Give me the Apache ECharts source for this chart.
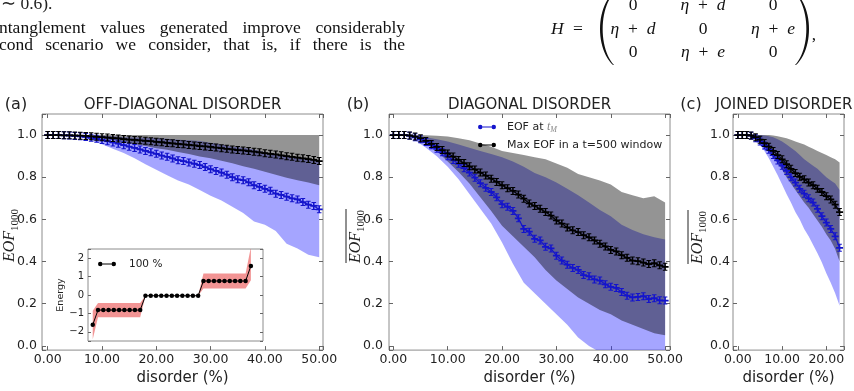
<!DOCTYPE html>
<html>
<head>
<meta charset="utf-8">
<script src="https://cdn.jsdelivr.net/npm/echarts@6/dist/echarts.min.js"></script>
<style>
html,body{margin:0;padding:0;background:#fff;}
#chart{width:854px;height:391px;}
</style>
</head>
<body>
<div id="chart"></div>
<script>
// ---- data: panels (a) and (b), disorder in %
var disorderAB = [0,1,2,3,4,5,6,7,8,9,10,11,12,13,14,15,16,17,18,19,20,21,22,23,24,25,26,27,28,29,30,31,32,33,34,35,36,37,38,39,40,41,42,43,44,45,46,47,48,49,50];
var bandXAB = [0,2,4,6,8,10,12,14,16,18,20,22,24,26,28,30,32,34,36,38,40,42,44,46,48,50];

// (a) off-diagonal disorder
var maxEofA = [1.000,1.000,1.000,0.999,0.999,0.998,0.997,0.996,0.994,0.992,0.990,0.988,0.986,0.984,0.981,0.979,0.977,0.975,0.973,0.971,0.968,0.966,0.963,0.961,0.958,0.956,0.953,0.951,0.948,0.946,0.944,0.941,0.938,0.935,0.932,0.929,0.927,0.924,0.921,0.918,0.914,0.911,0.908,0.904,0.900,0.897,0.893,0.890,0.886,0.882,0.877];
var eofTmA = [1.000,1.000,1.000,0.999,0.998,0.996,0.994,0.991,0.987,0.982,0.977,0.971,0.965,0.959,0.952,0.945,0.939,0.932,0.925,0.918,0.911,0.903,0.897,0.889,0.881,0.877,0.870,0.864,0.858,0.848,0.838,0.830,0.822,0.812,0.800,0.790,0.786,0.776,0.762,0.754,0.745,0.736,0.722,0.716,0.708,0.700,0.695,0.682,0.670,0.664,0.648];
var maxEofHighA = [1,1,1,1,1,1,1,1,1,1,1,1,1,1,1,1,1,1,1,1,1,1,1,1,1,1];
var maxEofLowA = [1.000,1.000,0.999,0.996,0.990,0.982,0.975,0.966,0.958,0.948,0.938,0.930,0.920,0.910,0.898,0.890,0.878,0.866,0.852,0.840,0.826,0.812,0.798,0.786,0.775,0.762];
var eofTmHighA = [1.000,1.000,0.999,0.998,0.998,0.997,0.995,0.990,0.988,0.987,0.986,0.983,0.978,0.975,0.972,0.964,0.955,0.945,0.940,0.932,0.918,0.905,0.900,0.893,0.885,0.876];
var eofTmLowA = [1.000,1.000,0.998,0.990,0.975,0.957,0.935,0.915,0.890,0.862,0.835,0.810,0.785,0.765,0.740,0.712,0.690,0.660,0.630,0.590,0.575,0.545,0.485,0.462,0.432,0.420];

// (b) diagonal disorder
var maxEofB = [1.000,1.000,1.000,0.998,0.993,0.985,0.972,0.958,0.944,0.929,0.913,0.898,0.882,0.867,0.852,0.837,0.822,0.808,0.793,0.778,0.762,0.748,0.735,0.718,0.698,0.676,0.664,0.650,0.635,0.618,0.595,0.580,0.562,0.548,0.540,0.525,0.515,0.500,0.485,0.472,0.455,0.448,0.430,0.418,0.405,0.402,0.395,0.388,0.392,0.382,0.375];
var eofTmB = [1.000,1.000,1.000,0.997,0.990,0.980,0.967,0.952,0.935,0.918,0.900,0.882,0.864,0.843,0.822,0.798,0.772,0.750,0.730,0.705,0.672,0.660,0.640,0.605,0.555,0.542,0.508,0.500,0.470,0.462,0.428,0.405,0.385,0.370,0.360,0.336,0.330,0.315,0.310,0.292,0.280,0.275,0.256,0.238,0.230,0.232,0.236,0.222,0.226,0.216,0.215];
var maxEofHighB = [1,1,1,0.999,0.997,0.993,0.985,0.975,0.96,0.945,0.925,0.915,0.905,0.895,0.885,0.865,0.845,0.815,0.8,0.785,0.765,0.73,0.715,0.7,0.71,0.68];
var maxEofLowB = [1,1,0.99,0.965,0.925,0.875,0.825,0.77,0.705,0.64,0.57,0.52,0.47,0.42,0.36,0.31,0.27,0.23,0.2,0.17,0.15,0.12,0.1,0.08,0.06,0.05];
var eofTmHighB = [1,1,0.998,0.99,0.98,0.97,0.955,0.94,0.925,0.91,0.895,0.875,0.85,0.82,0.8,0.775,0.745,0.715,0.68,0.645,0.615,0.575,0.55,0.53,0.515,0.505];
var eofTmLowB = [1,0.998,0.975,0.94,0.9,0.85,0.79,0.72,0.65,0.58,0.49,0.39,0.3,0.25,0.2,0.15,0.1,0.04,0.0,-0.03,-0.05,-0.07,-0.08,-0.07,-0.08,-0.08];

// (c) joined disorder
var disorderC = [0,1,2,3,4,5,6,7,8,9,10,11,12,13,14,15,16,17,18,19,20,21,22,23];
var maxEofC = [1.000,1.000,1.000,0.998,0.990,0.978,0.962,0.945,0.925,0.905,0.885,0.862,0.840,0.820,0.802,0.790,0.775,0.762,0.745,0.730,0.710,0.695,0.670,0.635];
var eofTmC = [1.000,1.000,1.000,0.997,0.985,0.970,0.950,0.930,0.905,0.880,0.855,0.830,0.800,0.775,0.745,0.722,0.700,0.680,0.650,0.615,0.585,0.555,0.520,0.465];
var maxEofHighC = [1,1,1,1,1,1,1,1,0.998,0.995,0.99,0.985,0.978,0.97,0.962,0.955,0.945,0.935,0.925,0.915,0.905,0.895,0.885,0.87];
var maxEofLowC = [1,1,1,0.997,0.985,0.968,0.945,0.92,0.895,0.865,0.835,0.8,0.77,0.74,0.71,0.68,0.655,0.625,0.595,0.565,0.53,0.5,0.46,0.4];
var eofTmHighC = [1,1,1,1,1,1,0.998,0.995,0.99,0.98,0.97,0.955,0.94,0.925,0.905,0.885,0.87,0.855,0.84,0.82,0.8,0.785,0.77,0.74];
var eofTmLowC = [1,1,1,0.993,0.978,0.955,0.925,0.89,0.85,0.81,0.765,0.72,0.68,0.635,0.6,0.555,0.52,0.48,0.44,0.395,0.345,0.3,0.25,0.19];

// inset: energy levels (100 %)
var levelIdx = [0,1,2,3,4,5,6,7,8,9,10,11,12,13,14,15,16,17,18,19,20,21,22,23,24,25,26,27,28,29,30];
var energy = [-1.62,-0.82,-0.82,-0.82,-0.82,-0.82,-0.82,-0.82,-0.82,-0.82,-0.04,-0.04,-0.04,-0.04,-0.04,-0.04,-0.04,-0.04,-0.04,-0.04,-0.04,0.76,0.76,0.76,0.76,0.76,0.76,0.76,0.76,0.76,1.58];
var energyHigh = [-0.85,-0.43,-0.43,-0.43,-0.43,-0.43,-0.43,-0.43,-0.43,-0.43,-0.04,-0.04,-0.04,-0.04,-0.04,-0.04,-0.04,-0.04,-0.04,-0.04,-0.04,1.17,1.17,1.17,1.17,1.17,1.17,1.17,1.17,1.17,2.6];
var energyLow = [-2.4,-1.21,-1.21,-1.21,-1.21,-1.21,-1.21,-1.21,-1.21,-1.21,-0.04,-0.04,-0.04,-0.04,-0.04,-0.04,-0.04,-0.04,-0.04,-0.04,-0.04,0.36,0.36,0.36,0.36,0.36,0.36,0.36,0.36,0.36,0.8];

var NAME_TM = 'EOF at tM';
var NAME_MAX = 'Max EOF in a t=500 window';
var NAME_LVL = '100 %';

var BLUE = '#1414cc';
var BLUE_BAND = 'rgba(40,40,255,0.42)';
var GRAY_BAND = 'rgba(0,0,0,0.42)';
var RED_BAND = 'rgba(232,60,60,0.55)';
var SANS = 'DejaVu Sans';
var SERIF = 'Liberation Serif';
var crossMark = 'path://M-0.22,-1 H0.22 V1 H-0.22 Z M-1,-0.22 H1 V0.22 H-1 Z M-0.65,-1 H0.65 V-0.75 H-0.65 Z M-0.65,0.75 H0.65 V1 H-0.65 Z';
var legendMark = 'path://M0,2.5 a2.5,2.5 0 1,0 5,0 a2.5,2.5 0 1,0 -5,0 Z M15,2.5 a2.5,2.5 0 1,0 5,0 a2.5,2.5 0 1,0 -5,0 Z M5,2 H15 V3 H5 Z';

function pairs(xs, ys){
	var out = [];
	for(var i = 0; i < xs.length; i++){
		out.push([xs[i], ys[i]]);
	}
	return out;
}

//band between lower and upper curve, drawn as one polygon on the axes
function bandSeries(xs, lo, hi, color, idx){
	return {
		type: 'custom',
		xAxisIndex: idx[0],
		yAxisIndex: idx[1],
		clip: true,
		silent: true,
		z: 1,
		data: [[xs[0], hi[0]]],
		renderItem: function(params, api){
			var pts = [];
			for(var i = 0; i < xs.length; i++) pts.push(api.coord([xs[i], hi[i]]));
			for(var j = xs.length - 1; j >= 0; j--) pts.push(api.coord([xs[j], lo[j]]));
			return {type: 'polygon', shape: {points: pts}, style: {fill: color}};
		}
	};
}

function lineSeries(name, xs, ys, color, idx){
	return {
		type: 'line',
		name: name,
		xAxisIndex: idx[0],
		yAxisIndex: idx[1],
		data: pairs(xs, ys),
		symbol: crossMark,
		symbolSize: [7, 8],
		lineStyle: {color: color, width: 1.2},
		itemStyle: {color: color},
		z: 3
	};
}

function xFmt(v){
	return Math.abs(v - Math.round(v / 10) * 10) < 1e-6 ? v.toFixed(2) : '';
}
function yFmt(v){
	var r = Math.round(v * 5) / 5;
	return (Math.abs(v - r) < 1e-6 && v > -1e-6 && v < 1.0001) ? v.toFixed(1) : '';
}
var tick = {inside: true, length: 4, lineStyle: {color: '#666'}};

function xAxisPair(grid, min, max){
	return [{
		type: 'value', gridIndex: grid, min: min, max: max, position: 'bottom',
		minInterval: 10, maxInterval: 10,
		axisLine: {show: false, onZero: false}, splitLine: {show: false}, axisTick: tick,
		axisLabel: {formatter: xFmt, margin: 3, fontFamily: SANS, fontSize: 12.5, color: '#222'},
		name: 'disorder (%)', nameLocation: 'middle', nameGap: 14,
		nameTextStyle: {fontFamily: SANS, fontSize: 15, color: '#222'}
	}, {
		type: 'value', gridIndex: grid, min: min, max: max, position: 'top',
		minInterval: 10, maxInterval: 10,
		axisLine: {show: false, onZero: false}, splitLine: {show: false}, axisTick: tick,
		axisLabel: {show: false}
	}];
}
function yAxisPair(grid, margin){
	return [{
		type: 'value', gridIndex: grid, min: -0.02, max: 1.1, position: 'left',
		minInterval: 0.2, maxInterval: 0.2,
		axisLine: {show: false, onZero: false}, splitLine: {show: false}, axisTick: tick,
		axisLabel: {formatter: yFmt, margin: margin, fontFamily: SANS, fontSize: 12.5, color: '#222'}
	}, {
		type: 'value', gridIndex: grid, min: -0.02, max: 1.1, position: 'right',
		minInterval: 0.2, maxInterval: 0.2,
		axisLine: {show: false, onZero: false}, splitLine: {show: false}, axisTick: tick,
		axisLabel: {show: false}
	}];
}

//rotated EOF_1000 axis title, optional bar over it
function eofLabel(baseX, cy, bar){
	var kids = [
		{type: 'text', x: -27, y: 3.5, style: {text: 'EOF', fontFamily: SERIF, fontStyle: 'italic', fontSize: 16, fill: '#222', verticalAlign: 'bottom', textVerticalAlign: 'bottom'}},
		{type: 'text', x: 4, y: 7, style: {text: '1000', fontFamily: SERIF, fontSize: 11, fill: '#222', verticalAlign: 'bottom', textVerticalAlign: 'bottom'}}
	];
	if(bar){
		kids.push({type: 'line', shape: {x1: -27, y1: -14, x2: 27, y2: -14}, style: {stroke: '#222', lineWidth: 1}});
	}
	return {type: 'group', x: baseX, y: cy, rotation: Math.PI / 2, children: kids};
}

function label(text, x, y, size, family, align){
	return {type: 'text', x: x, y: y, style: {text: text, fontFamily: family || SANS, fontSize: size, fill: '#222',
		align: align || 'center', textAlign: align || 'center', verticalAlign: 'middle', textVerticalAlign: 'middle'}};
}

//justified line of the paper text
var measureCtx = document.createElement('canvas').getContext('2d');
function justifyLine(words, x0, x1, y, size){
	measureCtx.font = size + 'px "' + SERIF + '"';
	var widths = words.map(function(w){ return measureCtx.measureText(w).width; });
	var total = widths.reduce(function(a, b){ return a + b; }, 0);
	var gap = (x1 - x0 - total) / (words.length - 1);
	var els = [], x = x0;
	for(var i = 0; i < words.length; i++){
		els.push({type: 'text', x: x, y: y, style: {text: words[i], fontFamily: SERIF, fontSize: size, fill: '#111',
			verticalAlign: 'middle', textVerticalAlign: 'middle'}});
		x += widths[i] + gap;
	}
	return els;
}

//tall bracket of the matrix as a thin crescent polygon
function paren(xEnd, xBulge, y0, y1, thick){
	var pts = [], n = 24, i, t, s;
	var dir = xBulge < xEnd ? 1 : -1;
	function bez(a, b, c, d, u){ var v = 1 - u; return v*v*v*a + 3*v*v*u*b + 3*v*u*u*c + u*u*u*d; }
	var ctrl = xEnd + (xBulge - xEnd) * 4 / 3;
	for(i = 0; i <= n; i++){
		t = i / n;
		pts.push([bez(xEnd, ctrl, ctrl, xEnd, t), bez(y0, y0 + (y1 - y0) * 0.22, y0 + (y1 - y0) * 0.78, y1, t)]);
	}
	for(i = n; i >= 0; i--){
		t = i / n;
		s = ctrl + dir * thick * 4 / 3;
		pts.push([bez(xEnd + dir * 1, s, s, xEnd + dir * 1, t), bez(y0, y0 + (y1 - y0) * 0.22, y0 + (y1 - y0) * 0.78, y1, t)]);
	}
	return {type: 'polygon', shape: {points: pts}, style: {fill: '#111'}};
}

var rich = {i: {fontFamily: SERIF, fontStyle: 'italic', fontSize: 17.5, color: '#111'}};
function mathCell(text, x, y){
	return {type: 'text', x: x, y: y, style: {text: text, rich: rich, fontFamily: SERIF, fontSize: 17.5, fill: '#111',
		align: 'center', textAlign: 'center', verticalAlign: 'middle', textVerticalAlign: 'middle'}};
}
var ETA_D = '{i|η}\u2002+\u2002{i|d}';
var ETA_E = '{i|η}\u2002+\u2002{i|e}';

var graphics = []
	.concat([label('\u223c 0.6).', 1, 4, 17.5, SERIF, 'left')])
	.concat(justifyLine(['ntanglement', 'values', 'generated', 'improve', 'considerably'], -1, 405, 28, 17.5))
	.concat(justifyLine(['cond', 'scenario', 'we', 'consider,', 'that', 'is,', 'if', 'there', 'is', 'the'], -1, 405, 45.5, 17.5))
	.concat([
		{type: 'text', x: 551, y: 29, style: {text: 'H', fontFamily: SERIF, fontStyle: 'italic', fontSize: 17.5, fill: '#111', verticalAlign: 'middle', textVerticalAlign: 'middle'}},
		mathCell('=', 578, 29),
		mathCell('0', 633, 5), mathCell(ETA_D, 703, 5), mathCell('0', 773, 5),
		mathCell(ETA_D, 633, 29), mathCell('0', 703, 29), mathCell(ETA_E, 773, 29),
		mathCell('0', 633, 52), mathCell(ETA_E, 703, 52), mathCell('0', 773, 52),
		paren(613, 600, -7, 65, 2.4),
		paren(796, 809, -7, 65, 2.4),
		mathCell(',', 814, 35)
	])
	.concat([
		label('(a)', 16, 105, 16), label('OFF-DIAGONAL DISORDER', 182.5, 105, 15),
		label('(b)', 358, 105, 16), label('DIAGONAL DISORDER', 529.5, 105, 15),
		label('(c)', 691, 105, 16), label('JOINED DISORDER', 784, 105, 15),
		eofLabel(14, 235, false), eofLabel(360, 236, true), eofLabel(702, 237, true)
	]);

var option = {
	animation: false,
	backgroundColor: '#fff',
	grid: [
		{left: 42, top: 114, width: 281, height: 243, show: true, borderColor: '#8c8c8c', borderWidth: 1},
		{left: 389, top: 114, width: 281, height: 243, show: true, borderColor: '#8c8c8c', borderWidth: 1},
		{left: 733, top: 114, width: 111, height: 243, show: true, borderColor: '#8c8c8c', borderWidth: 1},
		{left: 88, top: 249, width: 175, height: 92, show: true, borderColor: '#8c8c8c', borderWidth: 1, backgroundColor: '#fff'}
	],
	xAxis: [].concat(xAxisPair(0, -1.05, 50.7), xAxisPair(1, -0.8, 50.9), xAxisPair(2, -1.1, 24), [
		{type: 'value', gridIndex: 3, min: -0.9, max: 32.3, show: false, axisLine: {onZero: false}}
	]),
	yAxis: [].concat(yAxisPair(0, 5), yAxisPair(1, 6), yAxisPair(2, 3), [
		{type: 'value', gridIndex: 3, min: -2.5, max: 2.5, position: 'left', minInterval: 1, maxInterval: 1,
			axisLine: {show: false, onZero: false}, splitLine: {show: false}, axisTick: {inside: true, length: 3, lineStyle: {color: '#666'}},
			axisLabel: {margin: 4, fontFamily: SANS, fontSize: 10, color: '#222', formatter: function(v){
				var r = Math.round(v);
				return Math.abs(v - r) < 1e-6 ? (r < 0 ? '\u2212' + (-r) : String(r)) : '';
			}},
			name: 'Energy', nameLocation: 'middle', nameGap: 22, nameTextStyle: {fontFamily: SANS, fontSize: 9.5, color: '#222'}},
		{type: 'value', gridIndex: 3, min: -2.5, max: 2.5, position: 'right', minInterval: 1, maxInterval: 1,
			axisLine: {show: false, onZero: false}, splitLine: {show: false}, axisTick: {inside: true, length: 3, lineStyle: {color: '#666'}},
			axisLabel: {show: false}}
	]),
	legend: [{
		left: 478, top: 120, orient: 'vertical', padding: 0, itemGap: 4, itemWidth: 18, itemHeight: 5, selectedMode: false,
		data: [{name: NAME_TM, icon: legendMark}, {name: NAME_MAX, icon: legendMark}],
		formatter: function(n){ return n === NAME_TM ? 'EOF at {t|t}{m|M}' : n; },
		textStyle: {fontFamily: SANS, fontSize: 11, color: '#222', lineHeight: 14, padding: [0, 0, 0, 6],
			rich: {t: {fontFamily: SERIF, fontStyle: 'italic', fontSize: 12, color: '#888'},
				m: {fontFamily: SERIF, fontStyle: 'italic', fontSize: 8, color: '#888', padding: [5, 0, 0, 0]}}}
	}, {
		left: 98, top: 257, padding: 0, itemWidth: 18, itemHeight: 5, selectedMode: false,
		data: [{name: NAME_LVL, icon: legendMark}],
		textStyle: {fontFamily: SANS, fontSize: 10.5, color: '#222', lineHeight: 14, padding: [0, 0, 0, 8]}
	}],
	graphic: {elements: graphics},
	series: [
		bandSeries(bandXAB, eofTmLowA, eofTmHighA, BLUE_BAND, [0, 0]),
		bandSeries(bandXAB, maxEofLowA, maxEofHighA, GRAY_BAND, [0, 0]),
		lineSeries(NAME_TM, disorderAB, eofTmA, BLUE, [0, 0]),
		lineSeries(NAME_MAX, disorderAB, maxEofA, '#000', [0, 0]),

		bandSeries(bandXAB, eofTmLowB, eofTmHighB, BLUE_BAND, [2, 2]),
		bandSeries(bandXAB, maxEofLowB, maxEofHighB, GRAY_BAND, [2, 2]),
		lineSeries(NAME_TM, disorderAB, eofTmB, BLUE, [2, 2]),
		lineSeries(NAME_MAX, disorderAB, maxEofB, '#000', [2, 2]),

		bandSeries(disorderC, eofTmLowC, eofTmHighC, BLUE_BAND, [4, 4]),
		bandSeries(disorderC, maxEofLowC, maxEofHighC, GRAY_BAND, [4, 4]),
		lineSeries(NAME_TM, disorderC, eofTmC, BLUE, [4, 4]),
		lineSeries(NAME_MAX, disorderC, maxEofC, '#000', [4, 4]),

		bandSeries(levelIdx, energyLow, energyHigh, RED_BAND, [6, 6]),
		{
			type: 'line', name: NAME_LVL, xAxisIndex: 6, yAxisIndex: 6, data: pairs(levelIdx, energy),
			symbol: 'circle', symbolSize: 4.5, lineStyle: {color: '#000', width: 1}, itemStyle: {color: '#000'}, z: 3
		}
	]
};

var myChart = echarts.init(document.getElementById('chart'), null, {renderer: 'canvas'});
myChart.setOption(option, true);
</script>
</body>
</html>
